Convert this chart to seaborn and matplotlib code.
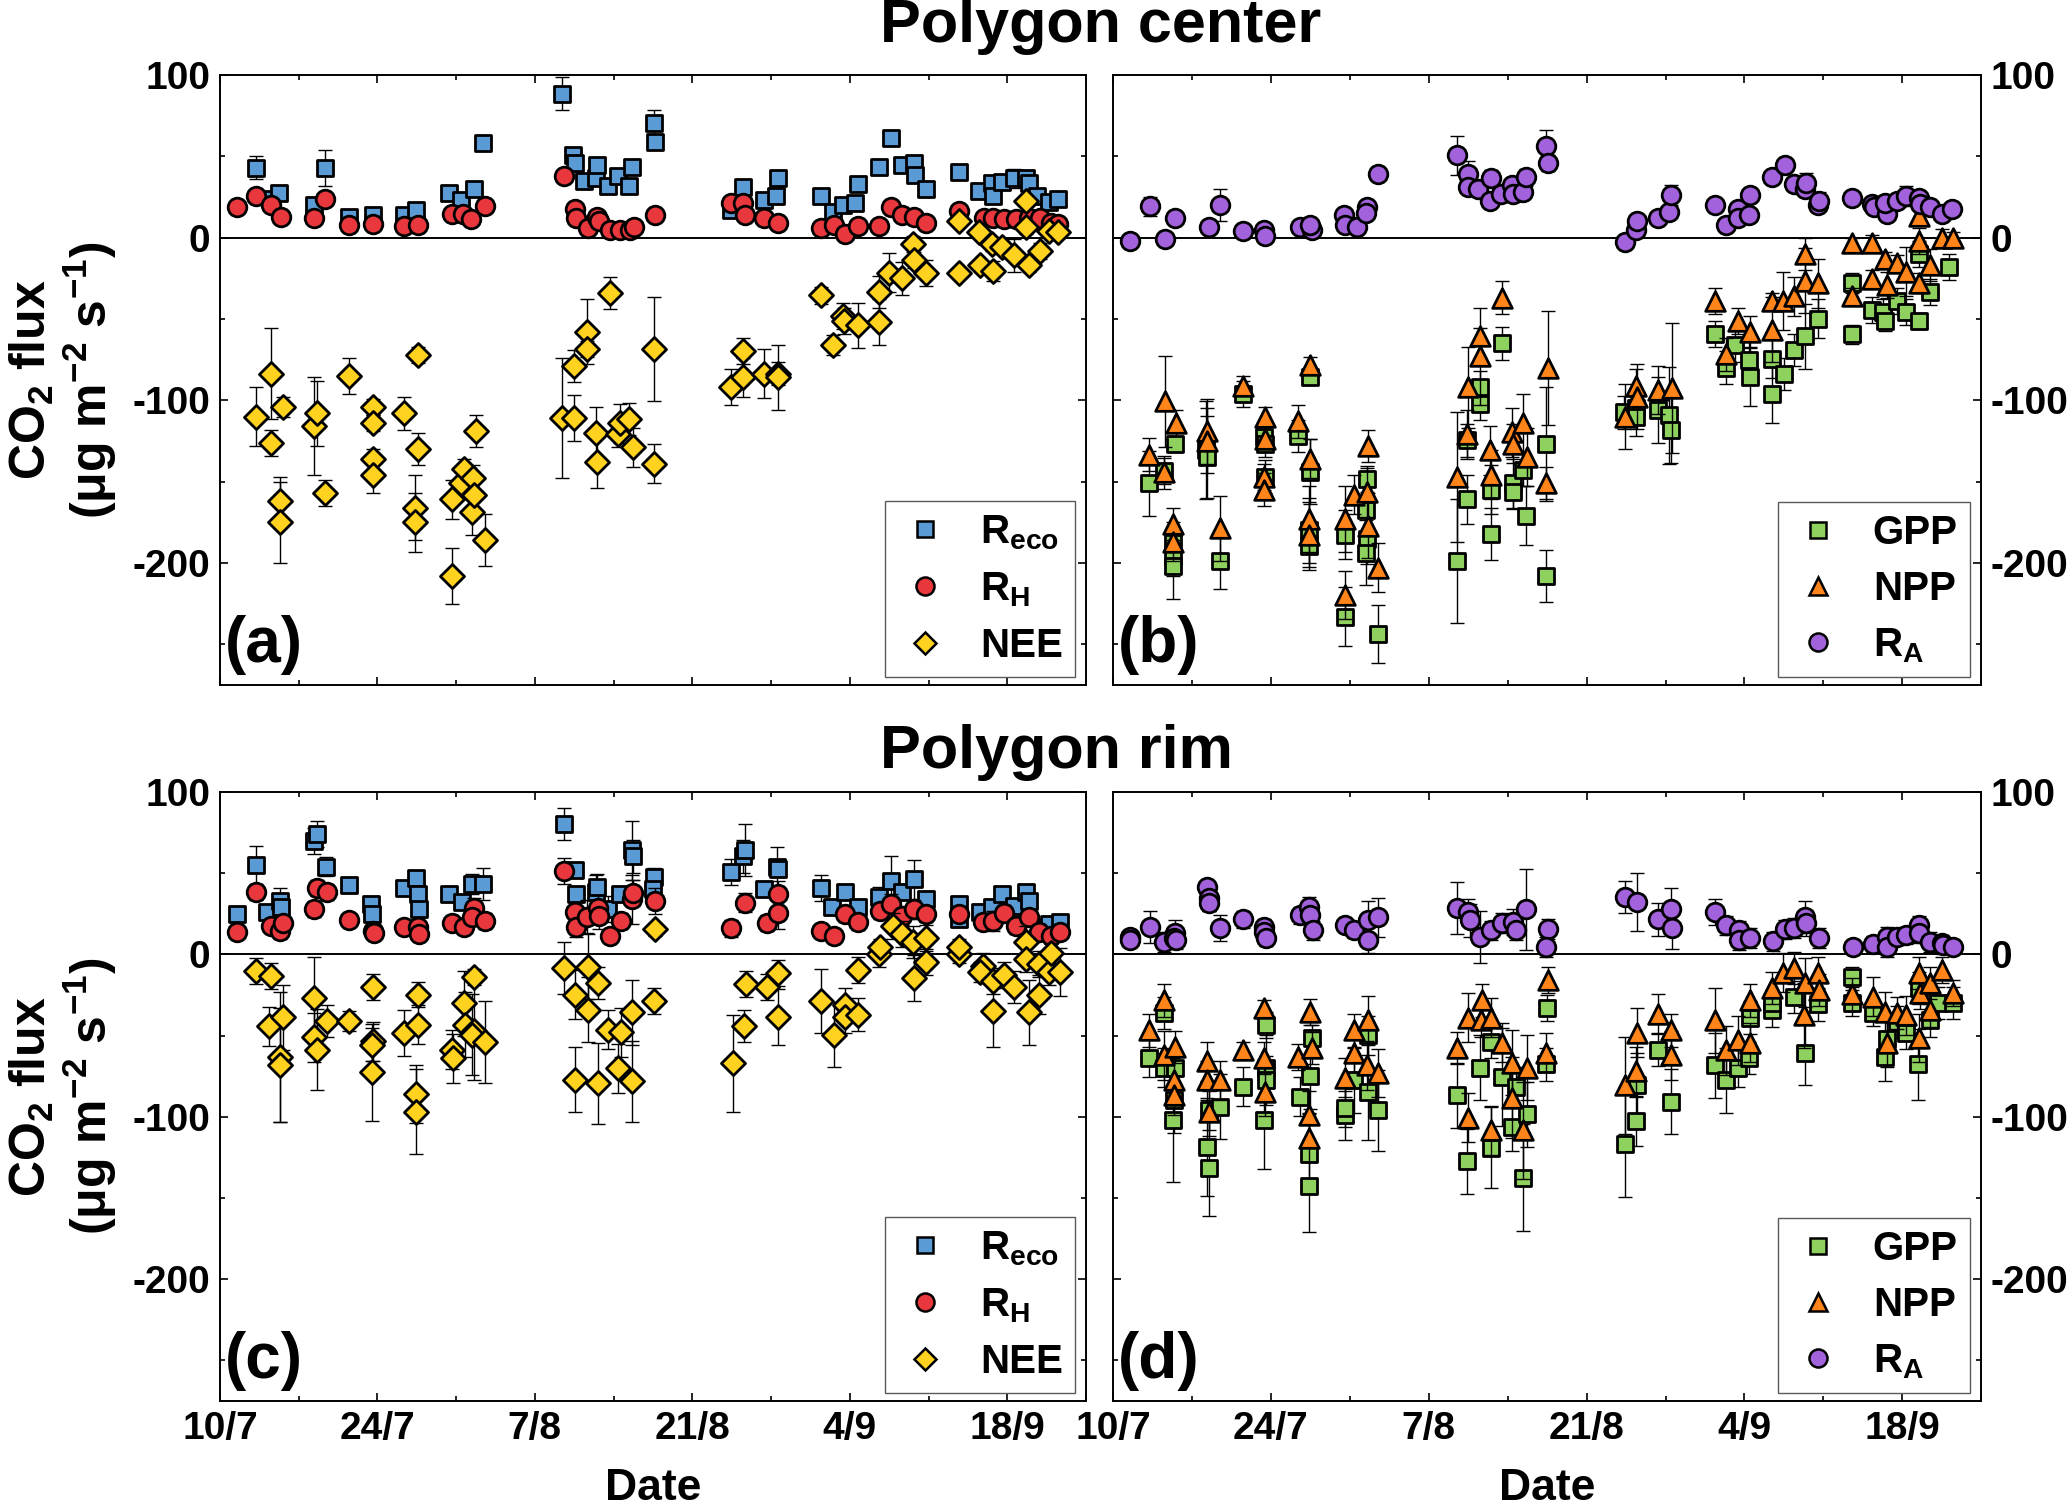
import matplotlib
matplotlib.use('Agg')
import matplotlib.pyplot as plt
import pandas as pd
import seaborn as sns
from matplotlib.lines import Line2D

# x = days since 10 July, y = CO2 flux, e = error bar (one side)
# (day, flux, err)
center_reco = [(3.25, 43, 7), (4.6, 24, 3), (5.25, 27.7, 4), (8.4, 20, 5), (9.3, 43, 11), (11.5, 12.6, 3),
               (13.6, 13.7, 3), (16.4, 14, 3), (17.4, 17, 3), (20.4, 27.7, 4), (21.4, 23, 3), (22.6, 29.6, 4),
               (23.4, 58, 4), (30.4, 88.5, 10), (31.4, 50.7, 3), (31.6, 45.7, 3), (32.4, 35, 3), (33.4, 36.4, 3),
               (33.5, 44.7, 4), (34.5, 31.5, 3), (35.4, 37.8, 3), (36.4, 32, 3), (36.6, 43.3, 3), (38.6, 70.7, 8),
               (38.7, 58.9, 4), (45.4, 17, 3), (46.5, 31, 3), (48.4, 23.3, 3), (49.4, 25.5, 3), (49.6, 36.4, 3),
               (53.4, 25.5, 3), (54.5, 15.9, 3), (55.4, 20, 4), (56.5, 21.4, 3), (56.7, 32.9, 3), (58.6, 43.3, 4),
               (59.7, 61, 3), (60.6, 44.7, 3), (61.7, 46, 3), (61.8, 38.4, 3), (62.8, 29.6, 4), (65.75, 40.5, 3),
               (67.5, 28.8, 3), (68.6, 33.7, 3), (68.75, 25.5, 3), (69.5, 34.2, 3), (70.6, 36.4, 6), (71.7, 36.4, 3),
               (71.9, 33.7, 3), (72.6, 25.5, 3), (73.75, 22, 3), (74.5, 23.6, 3)]
center_rh = [(1.5, 18.6, 4), (3.25, 25.5, 3), (4.5, 20, 3), (5.4, 12.6, 3), (8.4, 12.3, 3), (9.3, 23.6, 3),
             (11.5, 7.7, 2), (13.6, 8.5, 2), (16.4, 7.1, 2), (17.6, 7.7, 3), (20.6, 14.5, 3), (21.6, 14.5, 3),
             (22.3, 11.2, 3), (23.6, 19.2, 3), (30.6, 37.8, 3), (31.6, 17.3, 3), (31.7, 11.8, 3), (32.75, 5.8, 2),
             (33.5, 12.6, 3), (33.7, 9.9, 2), (34.7, 4.9, 2), (35.6, 4.9, 2), (36.5, 4.4, 2), (36.8, 6.8, 2),
             (38.7, 13.7, 3), (45.4, 21.4, 3), (46.5, 21.4, 3), (46.7, 13.7, 3), (48.4, 12.3, 3), (49.6, 9, 3),
             (53.4, 5.8, 2), (54.6, 7.7, 2), (55.6, 2.2, 2), (56.7, 7.1, 3), (58.6, 7.1, 2), (59.7, 18.6, 3),
             (60.6, 13.7, 3), (61.7, 12.6, 3), (62.8, 9, 3), (65.75, 16.4, 3), (67.9, 11.8, 3), (68.75, 11.8, 3),
             (69.7, 11.2, 3), (70.75, 11.2, 3), (71.9, 11.8, 3), (72.9, 12.3, 3), (73.9, 9, 3), (74.5, 8.2, 3)]
center_nee = [(3.25, -110, 18), (4.5, -126, 8), (4.5, -83.6, 28), (5.3, -162, 15), (5.3, -175, 25), (5.6, -104, 6),
              (8.4, -116, 30), (8.6, -108, 20), (9.3, -157, 8), (11.5, -85, 11), (13.6, -104, 5), (13.6, -114, 5),
              (13.6, -136, 6), (13.6, -146, 11), (16.4, -108, 10), (17.6, -72, 5), (17.6, -130, 10), (17.3, -166, 20),
              (17.3, -175, 18), (20.6, -161, 12), (20.6, -208, 17), (21.4, -151, 10), (21.7, -142, 6), (22.4, -169, 14),
              (22.5, -148, 8), (22.6, -158, 10), (22.8, -119, 10), (23.6, -186, 16), (30.4, -111, 37), (31.5, -111, 14),
              (31.5, -79, 10), (32.6, -58, 20), (32.6, -68.5, 5), (33.4, -120, 16), (33.5, -138, 16), (34.7, -34, 10),
              (35.4, -121, 8), (35.6, -114, 12), (36.4, -111.5, 10), (36.7, -129, 12), (38.6, -68.5, 32),
              (38.6, -139, 12), (45.4, -92, 11), (46.5, -70, 8), (46.5, -86, 12), (48.4, -83.6, 15), (49.6, -83.6, 7),
              (49.6, -86, 20), (53.4, -35.6, 5), (54.5, -66, 6), (55.4, -48, 8), (55.5, -51, 8), (56.7, -54, 14),
              (58.6, -52, 14), (58.6, -33.4, 10), (59.5, -21.6, 12), (60.6, -25, 10), (61.6, -4, 5), (61.7, -14, 5),
              (62.8, -21.6, 8), (65.75, -21.6, 3), (65.75, 10.4, 3), (67.5, 3.6, 3), (67.6, -17, 3), (68.6, -4, 4),
              (68.75, -20.5, 6), (69.5, -6, 4), (70.6, -11, 10), (71.7, 22.7, 3), (71.7, 6.3, 4), (71.9, -17, 4),
              (72.9, -8.2, 5), (73.75, 4.1, 4), (74.5, 3.6, 3)]

center_gpp = [(3.2, -151, 20), (4.5, -143.6, 8), (5.5, -127, 4), (5.35, -188, 10), (5.35, -196, 12), (5.35, -202, 20),
              (8.2, -130.7, 30), (8.3, -134.8, 25), (9.5, -199, 17), (11.5, -96.4, 8), (13.4, -122.5, 6),
              (13.5, -126.6, 8), (13.5, -147, 10), (16.4, -122, 10), (17.5, -85.5, 4), (17.5, -144, 20),
              (17.4, -180, 20), (17.4, -189.6, 15), (20.6, -182.7, 15), (20.6, -233, 18), (22.5, -148.5, 8),
              (22.4, -167.7, 15), (22.5, -185.5, 15), (22.4, -193.7, 20), (23.5, -243.6, 18), (30.5, -199, 38),
              (31.4, -124.7, 10), (31.4, -160.8, 15), (32.5, -91.8, 10), (32.5, -102, 10), (34.5, -65, 10),
              (33.5, -155, 15), (33.5, -182, 16), (35.5, -151, 15), (35.5, -156.7, 10), (36.4, -143, 10),
              (36.6, -171, 18), (38.4, -127, 35), (38.4, -208, 16), (45.3, -107.4, 10), (46.35, -104.7, 10),
              (46.4, -110, 12), (48.3, -106, 20), (49.3, -109.3, 30), (49.5, -118.4, 20), (53.4, -59.5, 8),
              (54.4, -80, 10), (55.2, -66.3, 10), (56.4, -75.3, 12), (56.5, -85.5, 18), (58.4, -74.5, 12),
              (58.4, -95.9, 18), (59.5, -84, 10), (60.4, -69, 10), (61.4, -60.8, 20), (62.5, -49.9, 12),
              (65.55, -59.5, 6), (65.55, -28, 6), (67.3, -44.4, 8), (68.3, -45.8, 8), (68.5, -51.2, 6),
              (69.5, -38.9, 8), (70.3, -45.8, 8), (71.5, -51.2, 5), (71.5, -10.1, 8), (72.5, -33.4, 8),
              (74.1, -17.8, 8)]
center_npp = [(3.2, -133.4, 10), (4.5, -144.4, 10), (4.6, -100.5, 28), (5.6, -114, 8), (5.35, -176, 10),
              (5.35, -187, 12), (8.3, -119, 20), (8.3, -125, 20), (9.5, -178.6, 20), (11.5, -91, 6), (13.5, -110, 6),
              (13.5, -123.8, 6), (13.4, -147, 8), (13.4, -155, 10), (16.4, -112.9, 10), (17.5, -78.6, 5),
              (17.5, -136, 12), (17.4, -173, 20), (17.4, -182.7, 20), (20.6, -173, 20), (20.6, -219.7, 15),
              (21.4, -158, 12), (22.6, -128, 10), (22.5, -156.7, 15), (22.6, -177, 20), (23.5, -203, 15),
              (30.5, -147, 40), (31.4, -121, 15), (31.5, -92, 25), (32.5, -73, 30), (32.5, -60.8, 5), (34.5, -37, 10),
              (33.4, -130.7, 15), (33.5, -145.8, 15), (35.4, -119.7, 15), (35.5, -126.6, 12), (36.4, -114.2, 18),
              (36.7, -134.8, 18), (38.6, -80, 35), (38.4, -151, 10), (45.4, -110, 20), (46.35, -91, 10),
              (46.5, -97.8, 20), (48.3, -93.7, 15), (49.6, -92.3, 40), (53.4, -38.9, 8), (54.4, -71.8, 10),
              (55.4, -51.2, 8), (56.5, -58, 10), (58.4, -38.9, 5), (58.4, -56.7, 20), (59.4, -38.9, 18),
              (60.4, -36.2, 12), (61.4, -10.1, 10), (61.4, -26.6, 20), (62.5, -28, 15), (65.55, -3.3, 3),
              (65.55, -36.2, 5), (67.3, -3.3, 5), (67.3, -25.2, 5), (68.5, -12.9, 4), (68.6, -29.3, 8),
              (69.5, -15.6, 5), (70.3, -21, 15), (71.5, -1.9, 8), (71.5, -28, 6), (71.5, 13, 5), (72.5, -17, 10),
              (73.5, -0.5, 6), (74.5, -0.5, 4)]
center_ra = [(1.5, -1.9, 3), (3.3, 19.2, 6), (4.6, -1.1, 3), (5.5, 12.3, 4), (8.5, 6.8, 4), (9.5, 20, 10),
             (11.5, 4.1, 2), (13.4, 4.4, 2), (13.5, 0.8, 2), (16.6, 6.3, 3), (17.6, 4.9, 3), (17.5, 7.5, 3),
             (20.5, 14, 3), (20.6, 7.7, 3), (21.6, 6.3, 3), (22.5, 18.6, 3), (22.4, 15, 3), (23.5, 39.2, 4),
             (30.5, 50.7, 12), (31.5, 39.2, 8), (31.5, 31, 3), (32.4, 29.6, 3), (33.4, 22.7, 3), (33.5, 36.4, 5),
             (34.4, 26.8, 3), (35.4, 32.3, 4), (35.5, 26.8, 3), (36.4, 28.2, 3), (36.6, 37, 5), (38.4, 56.2, 10),
             (38.6, 46, 5), (45.4, -2.5, 3), (46.35, 4.9, 3), (46.5, 9.9, 3), (48.3, 12.3, 3), (49.3, 15.9, 3),
             (49.5, 26.3, 6), (53.4, 20, 4), (54.4, 7.7, 3), (55.4, 17.3, 3), (55.4, 11.8, 3), (56.4, 14, 3),
             (56.5, 26, 3), (58.4, 37, 4), (59.6, 44.7, 3), (60.4, 33.2, 3), (61.4, 29.6, 3), (61.5, 33.7, 6),
             (62.5, 20, 3), (62.6, 22.2, 6), (65.55, 24.1, 3), (67.3, 20.5, 3), (67.5, 18.6, 3), (68.6, 14.5, 3),
             (68.5, 21.4, 3), (69.5, 22.7, 3), (70.3, 25.5, 6), (71.5, 24.1, 3), (71.6, 20.5, 3), (72.5, 18.6, 3),
             (73.5, 14.5, 3), (74.4, 17.8, 3)]

rim_reco = [(1.5, 24.7, 3), (3.25, 55, 12), (4.2, 26.3, 4), (5.3, 33, 8), (5.4, 29.4, 8), (8.4, 69.6, 8),
            (8.6, 74.2, 8), (9.4, 54, 6), (11.5, 42.7, 3), (13.4, 30.9, 5), (13.5, 24.7, 5), (16.4, 40.8, 4),
            (17.4, 47, 4), (17.6, 37, 5), (17.7, 27.8, 5), (20.4, 37, 4), (21.5, 32.5, 4), (22.4, 43.3, 6),
            (23.4, 43.3, 10), (30.6, 80.4, 10), (31.6, 52, 5), (31.7, 37, 5), (33.4, 38.6, 10), (33.5, 41.7, 8),
            (34.5, 27.8, 8), (35.6, 37, 5), (36.6, 64, 18), (36.7, 60.3, 10), (38.6, 47.9, 5), (38.5, 40.2, 6),
            (45.4, 51, 8), (46.5, 60.3, 10), (46.7, 64, 16), (48.4, 40.2, 5), (49.5, 54, 12), (49.6, 52.5, 5),
            (53.4, 40.8, 8), (54.4, 29.4, 5), (55.6, 38.6, 5), (56.7, 29.4, 5), (58.6, 35.5, 6), (59.7, 45.4, 15),
            (60.6, 38.6, 5), (61.7, 46.4, 12), (62.8, 34, 5), (65.75, 30.9, 5), (65.75, 21.6, 5), (67.6, 26.3, 5),
            (68.6, 29.4, 5), (69.5, 37, 5), (70.6, 30, 5), (71.7, 38.6, 5), (71.9, 33, 5), (72.8, 16.4, 5),
            (73.75, 18.5, 5), (74.7, 20, 4)]
rim_rh = [(1.5, 13.9, 4), (3.25, 38.6, 5), (4.5, 17.6, 4), (5.3, 14.5, 5), (5.6, 19.5, 4), (8.4, 27.8, 5),
          (8.6, 40.8, 5), (9.5, 38.6, 5), (11.5, 21, 3), (13.6, 14.5, 5), (13.7, 13.3, 4), (16.4, 17, 3),
          (17.6, 17, 4), (17.7, 12.4, 4), (20.6, 19.5, 4), (21.7, 17, 4), (22.6, 28.7, 6), (22.4, 23.2, 6),
          (23.6, 20.7, 5), (30.6, 51.6, 8), (31.6, 26.3, 6), (31.7, 17, 6), (32.6, 23.2, 10), (33.6, 28.7, 8),
          (33.7, 23.8, 8), (34.7, 11.4, 4), (35.7, 20.7, 5), (36.6, 34, 15), (36.7, 37.7, 8), (38.7, 33, 8),
          (45.4, 16, 5), (46.7, 31.8, 6), (48.6, 19.2, 5), (49.6, 37, 8), (49.6, 25.6, 10), (53.4, 14.5, 4),
          (54.6, 11.4, 4), (55.6, 24.7, 5), (56.7, 20, 5), (58.7, 26.9, 5), (59.7, 30.9, 6), (60.6, 23.8, 6),
          (61.7, 27.8, 6), (62.8, 24.7, 5), (65.75, 24.7, 5), (67.8, 20, 4), (68.75, 20.7, 6), (69.7, 25.6, 5),
          (70.75, 17.6, 5), (71.9, 23.2, 5), (72.8, 13.9, 5), (73.9, 11.4, 5), (74.7, 13.9, 4)]
rim_nee = [(3.25, -10.2, 8), (4.5, -13.3, 8), (4.4, -44.2, 12), (5.3, -63.4, 40), (5.35, -68, 35), (5.6, -38.6, 20),
           (8.4, -26.9, 25), (8.4, -51, 15), (8.6, -58.7, 25), (9.5, -41.1, 10), (11.5, -41.1, 6), (13.6, -20.1, 8),
           (13.6, -53.5, 12), (13.5, -55.6, 10), (13.5, -72.6, 30), (16.4, -48.5, 14), (17.6, -24.7, 8),
           (17.6, -43.3, 12), (17.4, -86, 18), (17.4, -96.8, 26), (20.6, -58.7, 12), (20.7, -64, 15),
           (21.7, -30, 20), (21.8, -43.3, 20), (22.6, -13.9, 5), (22.6, -47.3, 30), (22.4, -49.5, 25),
           (23.6, -54, 25), (30.6, -8.3, 16), (31.6, -24.7, 15), (31.6, -77.3, 20), (32.75, -7.7, 20),
           (32.75, -34, 20), (33.6, -17.6, 10), (33.6, -79.4, 25), (34.5, -46.4, 12), (35.4, -70.2, 15),
           (35.7, -47.9, 15), (36.6, -35.5, 20), (36.6, -78.2, 25), (38.6, -28.7, 8), (38.7, 15.5, 4),
           (45.6, -67.1, 30), (46.6, -44.2, 10), (46.8, -18.5, 8), (48.6, -20.1, 8), (49.6, -38.6, 17),
           (49.6, -11.4, 8), (53.4, -28.7, 20), (54.6, -49.5, 20), (55.6, -30.9, 10), (55.6, -38.6, 10),
           (56.7, -9.9, 8), (56.7, -37.1, 10), (58.6, 0, 8), (58.7, 4.6, 5), (59.8, 17.6, 8), (60.6, 12.4, 8),
           (61.6, 7.7, 10), (61.7, -14.5, 14), (62.8, 10.2, 8), (62.8, -4.6, 8), (65.75, 0, 5), (65.75, 4.6, 5),
           (67.8, -7.1, 8), (67.6, -10.8, 6), (68.75, -16.4, 8), (68.75, -34.9, 22), (69.7, -12.4, 8),
           (70.6, -20.1, 10), (71.7, 7.7, 10), (71.7, -3.1, 8), (71.9, -35.5, 20), (72.8, -6.2, 8),
           (72.8, -24.7, 12), (73.75, -10.8, 8), (73.9, 0.9, 6), (74.7, -10.8, 15)]

rim_gpp = [(3.2, -63.7, 12), (4.5, -36, 10), (4.5, -69.8, 12), (5.35, -102, 38), (5.5, -69.8, 10), (5.4, -89.8, 20),
           (8.3, -118.5, 30), (8.5, -131.4, 30), (8.5, -96, 12), (9.5, -93.8, 20), (11.5, -81.5, 12),
           (13.4, -102, 30), (13.6, -69.8, 20), (13.6, -43.7, 8), (13.6, -77.5, 15), (16.6, -87.7, 12),
           (17.5, -75, 20), (17.6, -51.4, 8), (17.4, -122.8, 25), (17.4, -142.8, 28), (20.6, -99, 15),
           (20.6, -94.5, 12), (21.4, -77.5, 20), (22.6, -84.6, 30), (22.6, -49.8, 12), (23.5, -96, 25),
           (30.5, -86.8, 20), (31.4, -127.4, 20), (32.5, -69.8, 20), (33.5, -119, 25), (34.5, -75.4, 30),
           (33.5, -53.8, 10), (35.4, -106, 15), (35.7, -81.5, 12), (36.4, -137.5, 33), (36.7, -98.5, 20),
           (38.5, -33, 8), (38.4, -67.7, 10), (45.4, -116.6, 33), (46.35, -102.8, 15), (46.5, -80.6, 20),
           (48.3, -59, 10), (49.5, -90.8, 20), (53.4, -68.3, 20), (54.4, -77.5, 20), (55.4, -69.8, 12),
           (56.5, -39, 10), (56.4, -63.7, 10), (58.4, -34.5, 10), (58.4, -29.8, 8), (60.4, -26.2, 10),
           (61.4, -60.6, 20), (62.5, -30.8, 10), (65.55, -13.8, 6), (65.55, -29.8, 8), (67.4, -36, 8),
           (68.5, -63, 15), (68.6, -52, 12), (69.5, -41.5, 10), (70.3, -48.3, 10), (71.4, -67.7, 22),
           (71.5, -20.6, 10), (72.5, -40.6, 10), (73.2, -29.8, 10), (74.5, -29.8, 10)]
rim_npp = [(3.2, -46.8, 10), (4.5, -28.3, 10), (4.5, -62.2, 15), (5.5, -57, 10), (5.4, -77.5, 15), (5.4, -86.8, 12),
           (8.3, -65.8, 12), (8.3, -77.5, 12), (8.5, -97, 15), (9.5, -77.5, 12), (11.5, -59, 5), (13.4, -33, 5),
           (13.4, -63.7, 10), (13.5, -84.6, 15), (16.4, -63, 8), (17.5, -35.4, 8), (17.6, -57.5, 10),
           (17.4, -99, 15), (17.4, -113, 15), (20.6, -76, 12), (21.4, -46.8, 10), (21.4, -60.6, 12),
           (22.6, -40.6, 15), (22.5, -68.3, 15), (23.5, -73, 15), (30.5, -57.5, 10), (31.5, -39, 15),
           (31.5, -100.6, 15), (32.7, -28.3, 10), (32.6, -40.6, 10), (33.5, -39, 12), (33.5, -108.3, 15),
           (34.5, -54.5, 12), (35.4, -66.8, 20), (35.4, -88.3, 25), (36.4, -108.3, 30), (36.7, -69.8, 20),
           (38.6, -16, 8), (38.4, -60.6, 12), (45.4, -80.6, 30), (46.35, -72, 15), (46.5, -48.3, 15),
           (48.3, -36.6, 12), (49.5, -46.8, 10), (49.5, -62.2, 15), (53.4, -40.6, 20), (54.4, -59, 15),
           (55.4, -53, 15), (56.5, -54.5, 12), (56.5, -28.3, 10), (58.4, -20.6, 10), (59.4, -11.4, 12),
           (60.4, -8.3, 10), (61.3, -37.5, 20), (61.4, -17.5, 15), (62.5, -11.4, 10), (62.6, -22, 10),
           (65.55, -24.6, 10), (67.4, -26.2, 12), (68.5, -35.4, 12), (68.6, -54.5, 15), (69.5, -36, 10),
           (70.3, -37.5, 12), (71.5, -11.4, 10), (71.5, -51.4, 15), (71.6, -23.7, 10), (72.5, -34.5, 10),
           (72.5, -17.5, 10), (73.5, -9.8, 8), (74.5, -23.7, 8)]
rim_ra = [(1.5, 10.8, 4), (1.5, 8.6, 4), (3.3, 16.9, 10), (4.5, 7.7, 6), (5.5, 13.2, 8), (5.4, 10.2, 5),
          (5.6, 8.6, 5), (8.3, 41.5, 3), (8.5, 34.8, 8), (8.5, 31.7, 5), (9.5, 16.3, 8), (11.5, 21.5, 5),
          (13.4, 16.9, 5), (13.4, 13.8, 5), (13.6, 10.2, 5), (16.6, 24, 5), (17.4, 29.2, 6), (17.5, 24, 6),
          (17.7, 14.8, 6), (20.6, 17.8, 4), (21.4, 14.8, 5), (22.6, 20.9, 12), (22.6, 8.6, 8), (23.5, 23, 12),
          (30.5, 28.6, 16), (31.5, 26.2, 8), (31.7, 20.9, 10), (32.5, 10.8, 16), (33.5, 14.8, 6), (34.5, 19.4, 6),
          (35.5, 20, 8), (35.7, 14.8, 6), (36.6, 27.7, 25), (38.6, 15.7, 6), (38.4, 4.6, 6), (45.4, 35.4, 10),
          (46.5, 32.3, 18), (48.3, 21.5, 10), (49.5, 28, 13), (49.6, 16.3, 13), (53.4, 26.2, 8), (54.4, 17.8, 6),
          (55.5, 14.8, 6), (55.5, 8.6, 6), (56.5, 10.2, 6), (58.5, 8, 6), (59.6, 15.4, 6), (60.4, 16.3, 6),
          (61.4, 23, 10), (61.5, 19.4, 8), (62.6, 10.2, 6), (65.6, 4.6, 4), (67.4, 6.2, 5), (68.6, 10.8, 6),
          (68.6, 4.6, 6), (69.5, 10.8, 5), (70.3, 11.7, 5), (71.5, 17.8, 6), (71.5, 13.2, 6), (72.5, 7.7, 6),
          (73.5, 7.1, 5), (73.6, 5.5, 5), (74.5, 4.6, 4)]

tick_days = [0, 14, 28, 42, 56, 70]
tick_labels = ['10/7', '24/7', '7/8', '21/8', '4/9', '18/9']
minor_days = [7, 21, 35, 49, 63, 77]

sns.set_theme(style='ticks', rc={'axes.edgecolor': 'black', 'text.color': 'black',
                                 'xtick.color': 'black', 'ytick.color': 'black',
                                 'axes.labelcolor': 'black'})
plt.rcParams['font.family'] = ['Liberation Sans', 'DejaVu Sans']
plt.rcParams['font.weight'] = 'bold'
plt.rcParams['axes.labelweight'] = 'bold'
plt.rcParams['axes.unicode_minus'] = False
plt.rcParams['mathtext.fontset'] = 'custom'
plt.rcParams['mathtext.rm'] = 'Liberation Sans:bold'
plt.rcParams['mathtext.it'] = 'Liberation Sans:bold'
plt.rcParams['mathtext.bf'] = 'Liberation Sans:bold'

# marker, fill colour, scatter size, legend marker size, legend label
styles = {
    'reco': ('s', '#5B9BD5', 140, 11.5, 'R$_{eco}$'),
    'rh': ('o', '#E8383D', 180, 13, 'R$_{H}$'),
    'nee': ('D', '#FFD21F', 150, 11.5, 'NEE'),
    'gpp': ('s', '#8FD15F', 140, 11.5, 'GPP'),
    'npp': ('^', '#FF8419', 200, 13, 'NPP'),
    'ra': ('o', '#A262DB', 180, 13, 'R$_{A}$'),
}


def draw_series(ax, pts, key, z):
    m, c, s, _, _ = styles[key]
    df = pd.DataFrame(pts, columns=['day', 'flux', 'err'])
    # error bars sit just under the series' own markers
    ax.errorbar(df['day'], df['flux'], yerr=df['err'], fmt='none', ecolor='black',
                elinewidth=1.0, capsize=5, capthick=1.0, zorder=z - 0.3)
    sns.scatterplot(data=df, x='day', y='flux', marker=m, color=c, s=s,
                    edgecolor='black', linewidth=2, ax=ax, zorder=z, legend=False)


def style_axes(ax, keys, letter, left, bottom):
    ax.set_xlim(0, 77)
    ax.set_ylim(-275, 100)
    ax.axhline(0, color='black', lw=1.4, zorder=1)
    ax.set_xticks(tick_days)
    ax.set_xticks(minor_days, minor=True)
    ax.set_yticks([-200, -100, 0, 100])
    ax.set_yticks([-250, -150, -50, 50], minor=True)
    ax.tick_params(which='major', direction='in', top=True, right=True, length=6, width=1.2)
    ax.tick_params(which='minor', direction='in', top=True, right=True, length=3.5, width=1.2)
    ax.tick_params(axis='y', labelsize=28, pad=7, labelleft=left, labelright=not left)
    ax.tick_params(axis='x', labelsize=28, pad=7, labelbottom=bottom)
    if bottom:
        ax.set_xticklabels(tick_labels)
        ax.set_xlabel('Date', fontsize=32)
        ax.xaxis.set_label_coords(0.5, -0.11)
    else:
        ax.set_xlabel('')
    if left:
        ax.set_ylabel('CO$_2$ flux\n(μg m$^{-2}$ s$^{-1}$)', fontsize=36, linespacing=1.1)
        ax.yaxis.set_label_coords(-0.117, 0.5)
    else:
        ax.set_ylabel('')
    for sp in ax.spines.values():
        sp.set_linewidth(1.4)
        sp.set_color('black')
    ax.text(0.006, 0.038, letter, transform=ax.transAxes, fontsize=46,
            fontweight='bold', ha='left', va='baseline')
    handles = [Line2D([], [], ls='none', marker=styles[k][0], ms=styles[k][3], mfc=styles[k][1],
                      mec='black', mew=1.8) for k in keys]
    leg = ax.legend(handles, [styles[k][4] for k in keys], loc='lower right',
                    bbox_to_anchor=(0.987, 0.013), borderaxespad=0, fontsize=29,
                    frameon=True, fancybox=False, edgecolor='0.35', framealpha=1,
                    handlelength=1.4, handletextpad=0.65, labelspacing=0.45, borderpad=0.3)
    leg.get_frame().set_linewidth(1.0)


fig = plt.figure(figsize=(20.67, 15.10), dpi=100)
ax_a = fig.add_axes([0.1064, 0.5464, 0.419, 0.404])
ax_b = fig.add_axes([0.5385, 0.5464, 0.42, 0.404])
ax_c = fig.add_axes([0.1064, 0.0722, 0.419, 0.4033])
ax_d = fig.add_axes([0.5385, 0.0722, 0.42, 0.4033])

draw_series(ax_a, center_reco, 'reco', 3)
draw_series(ax_a, center_rh, 'rh', 4)
draw_series(ax_a, center_nee, 'nee', 5)
draw_series(ax_b, center_gpp, 'gpp', 3)
draw_series(ax_b, center_npp, 'npp', 4)
draw_series(ax_b, center_ra, 'ra', 5)
draw_series(ax_c, rim_reco, 'reco', 3)
draw_series(ax_c, rim_rh, 'rh', 4)
draw_series(ax_c, rim_nee, 'nee', 5)
draw_series(ax_d, rim_gpp, 'gpp', 3)
draw_series(ax_d, rim_npp, 'npp', 4)
draw_series(ax_d, rim_ra, 'ra', 5)

style_axes(ax_a, ['reco', 'rh', 'nee'], '(a)', True, False)
style_axes(ax_b, ['gpp', 'npp', 'ra'], '(b)', False, False)
style_axes(ax_c, ['reco', 'rh', 'nee'], '(c)', True, True)
style_axes(ax_d, ['gpp', 'npp', 'ra'], '(d)', False, True)

fig.text(0.4257, 0.972, 'Polygon center', ha='left', va='baseline', fontsize=44, fontweight='bold')
fig.text(0.4257, 0.4914, 'Polygon rim', ha='left', va='baseline', fontsize=44, fontweight='bold')

fig.savefig('out.png', dpi=100)
